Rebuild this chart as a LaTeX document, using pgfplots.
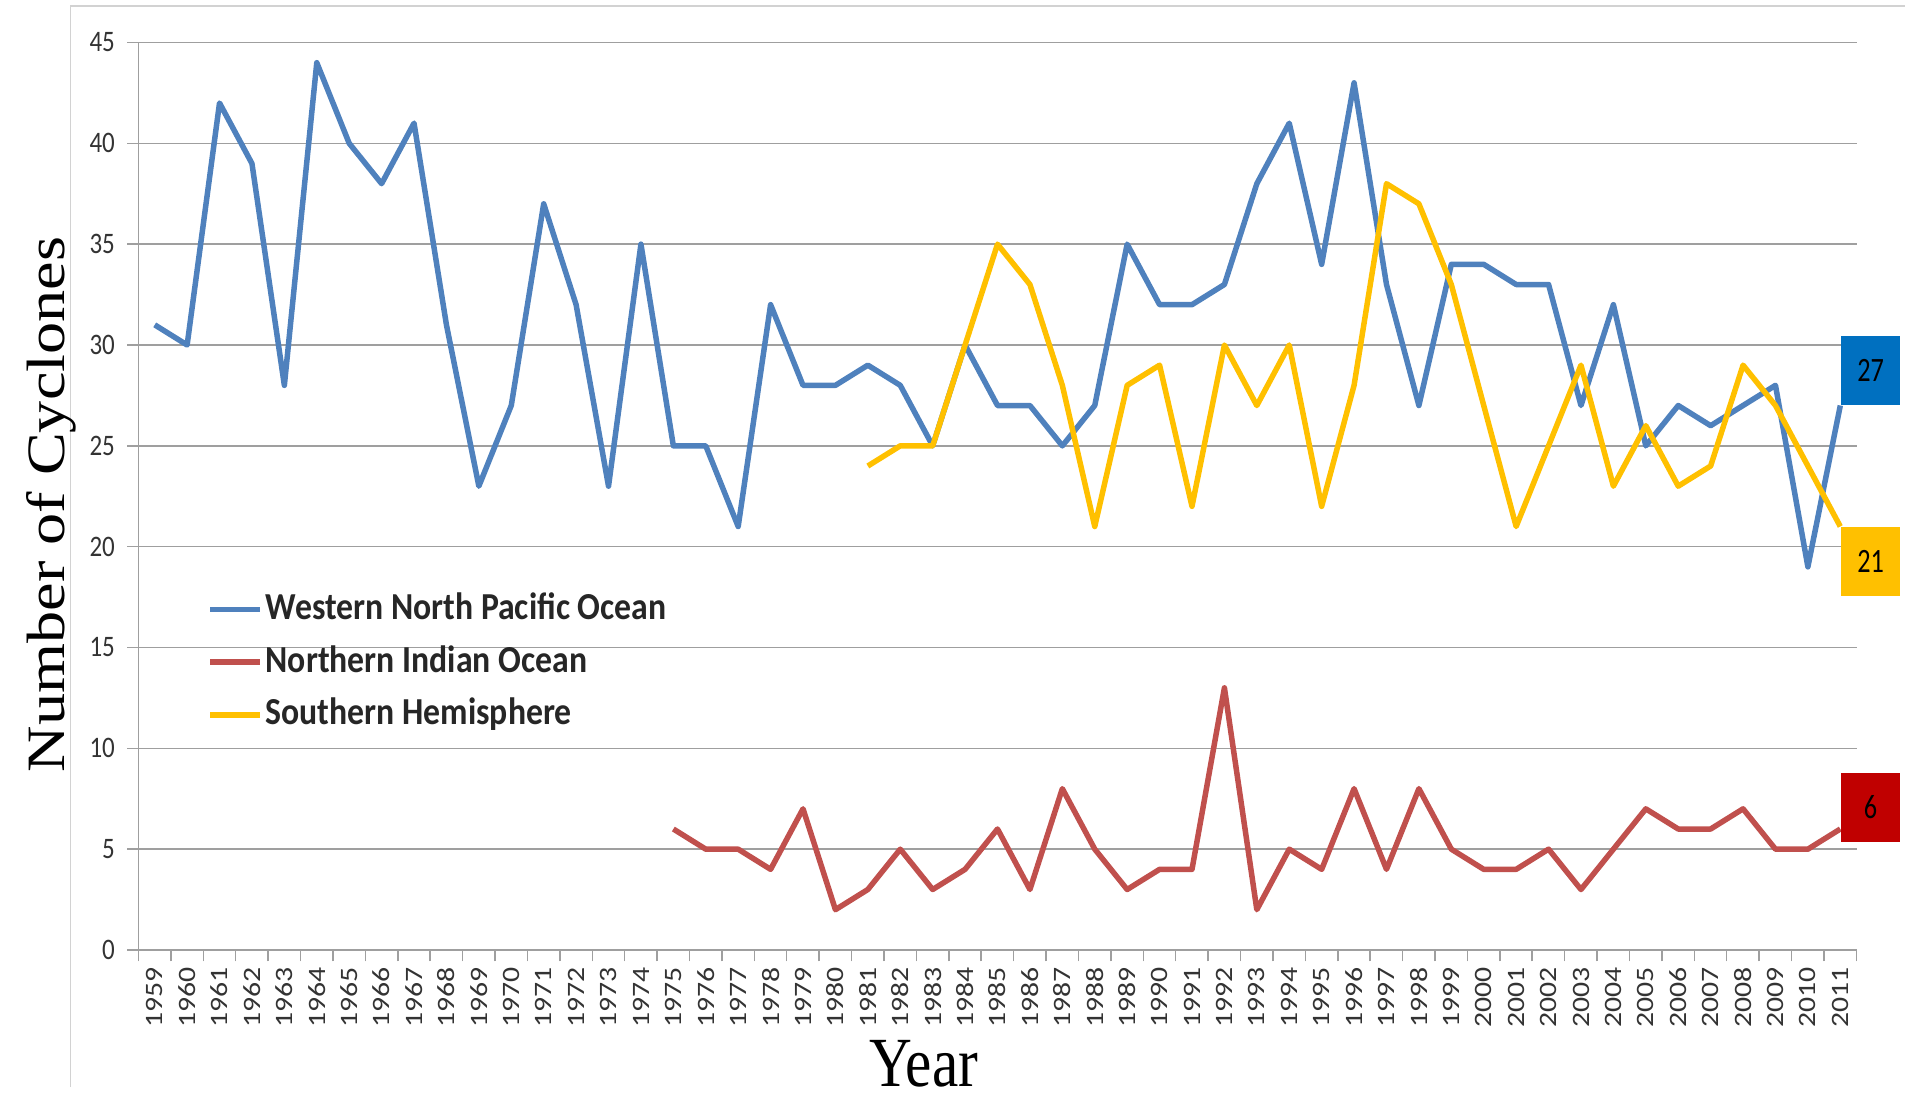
\documentclass[border=0pt]{standalone}
\usepackage{fontspec}
\setmainfont{Carlito}
\newfontfamily\timesfont{Liberation Serif}
\usepackage{pgfplots}
\pgfplotsset{compat=1.18}

\definecolor{wnp}{HTML}{4F81BD}
\definecolor{nio}{HTML}{C0504D}
\definecolor{sh}{HTML}{FFC000}
\definecolor{boxblue}{HTML}{0070C0}
\definecolor{boxyellow}{HTML}{FFC000}
\definecolor{boxred}{HTML}{C00000}

\begin{document}
\begin{tikzpicture}
\useasboundingbox (-55.4pt,-59.2pt) rectangle (706.6pt,380pt);
\begin{axis}[
  scale only axis, width=687.2pt, height=363pt,
  xmin=1958.5, xmax=2011.5, ymin=0, ymax=45,
  axis lines*=left,
  axis line style={draw=gray!75, line width=0.7pt},
  clip=false,
  scaled ticks=false,
  xtick={1959,1960,...,2011},
  minor xtick={1958.5,1959.5,...,2011.5},
  ytick={0,5,...,45},
  minor ytick={0,5,...,45},
  major tick length=0pt, minor tick length=4.5pt,
  tick align=outside,
  tick style={draw=gray!75, line width=0.6pt},
  ymajorgrids,
  major grid style={draw=gray!75, line width=0.6pt},
  xticklabel={\pgfmathtruncatemacro{\yr}{round(\tick)}\scalebox{1.19}[1]{\yr}},
  yticklabel={\pgfmathtruncatemacro{\yv}{round(\tick)}\scalebox{1}[1.19]{\yv}},
  xticklabel style={rotate=90, anchor=east, font=\fontsize{10}{12}\selectfont, text=black!80},
  yticklabel style={font=\fontsize{10}{12}\selectfont, text=black!80},
  xticklabel shift=3.5pt, yticklabel shift=5.9pt,
  xlabel={\scalebox{1}[1.19]{\timesfont\fontsize{23.7}{26}\selectfont Year}},
  ylabel={\scalebox{1.19}[1]{\timesfont\fontsize{21.6}{24}\selectfont Number of Cyclones}},
  xlabel style={at={(rel axis cs:0.457,-0.1255)}, anchor=center},
  ylabel style={at={(rel axis cs:-0.051,0.491)}, anchor=center},
  legend cell align=left,
  legend style={at={(rel axis cs:0.040,0.398)}, anchor=north west, draw=none, fill=none,
    inner sep=0pt, row sep=5.1pt, font=\bfseries\fontsize{13.5}{15}\selectfont, text=black!85,
    nodes={inner sep=1pt, text height=11pt, text depth=3pt}},
  legend image code/.code={\draw[#1] (0pt,0pt) -- (20pt,0pt);},
]
\draw[gray!35, line width=0.6pt] (rel axis cs:-0.0396,-0.151) -- (rel axis cs:-0.0396,1.0402) -- (rel axis cs:1.2,1.0402);

\addplot[wnp, line width=2.2pt, line join=round] coordinates {
(1959,31) (1960,30) (1961,42) (1962,39) (1963,28) (1964,44) (1965,40) (1966,38)
(1967,41) (1968,31) (1969,23) (1970,27) (1971,37) (1972,32) (1973,23) (1974,35)
(1975,25) (1976,25) (1977,21) (1978,32) (1979,28) (1980,28) (1981,29) (1982,28)
(1983,25) (1984,30) (1985,27) (1986,27) (1987,25) (1988,27) (1989,35) (1990,32)
(1991,32) (1992,33) (1993,38) (1994,41) (1995,34) (1996,43) (1997,33) (1998,27)
(1999,34) (2000,34) (2001,33) (2002,33) (2003,27) (2004,32) (2005,25) (2006,27)
(2007,26) (2008,27) (2009,28) (2010,19) (2011,27)
};
\addlegendentry{\scalebox{1}[1.13]{Western North Pacific Ocean}}

\addplot[nio, line width=2.2pt, line join=round] coordinates {
(1975,6) (1976,5) (1977,5) (1978,4) (1979,7) (1980,2) (1981,3) (1982,5)
(1983,3) (1984,4) (1985,6) (1986,3) (1987,8) (1988,5) (1989,3) (1990,4)
(1991,4) (1992,13) (1993,2) (1994,5) (1995,4) (1996,8) (1997,4) (1998,8)
(1999,5) (2000,4) (2001,4) (2002,5) (2003,3) (2004,5) (2005,7) (2006,6)
(2007,6) (2008,7) (2009,5) (2010,5) (2011,6)
};
\addlegendentry{\scalebox{1}[1.13]{Northern Indian Ocean}}

\addplot[sh, line width=2.2pt, line join=round] coordinates {
(1981,24) (1982,25) (1983,25) (1984,30) (1985,35) (1986,33) (1987,28) (1988,21)
(1989,28) (1990,29) (1991,22) (1992,30) (1993,27) (1994,30) (1995,22) (1996,28)
(1997,38) (1998,37) (1999,33) (2000,27) (2001,21) (2002,25) (2003,29) (2004,23)
(2005,26) (2006,23) (2007,24) (2008,29) (2009,27) (2010,24) (2011,21)
};
\addlegendentry{\scalebox{1}[1.13]{Southern Hemisphere}}

\node[fill=boxblue, anchor=south west, minimum width=23.8pt, minimum height=27.7pt, inner sep=0pt,
  font=\fontsize{10.5}{12}\selectfont] at (axis cs:2011,27) {\scalebox{1}[1.3]{27}};
\node[fill=boxyellow, anchor=north west, minimum width=23.8pt, minimum height=27.7pt, inner sep=0pt,
  font=\fontsize{10.5}{12}\selectfont] at (axis cs:2011,21) {\scalebox{1}[1.3]{21}};
\node[fill=boxred, anchor=west, minimum width=23.8pt, minimum height=27.7pt, inner sep=0pt,
  font=\fontsize{10.5}{12}\selectfont] at (axis cs:2011,7.07) {\scalebox{1}[1.3]{6}};
\end{axis}
\end{tikzpicture}
\end{document}
